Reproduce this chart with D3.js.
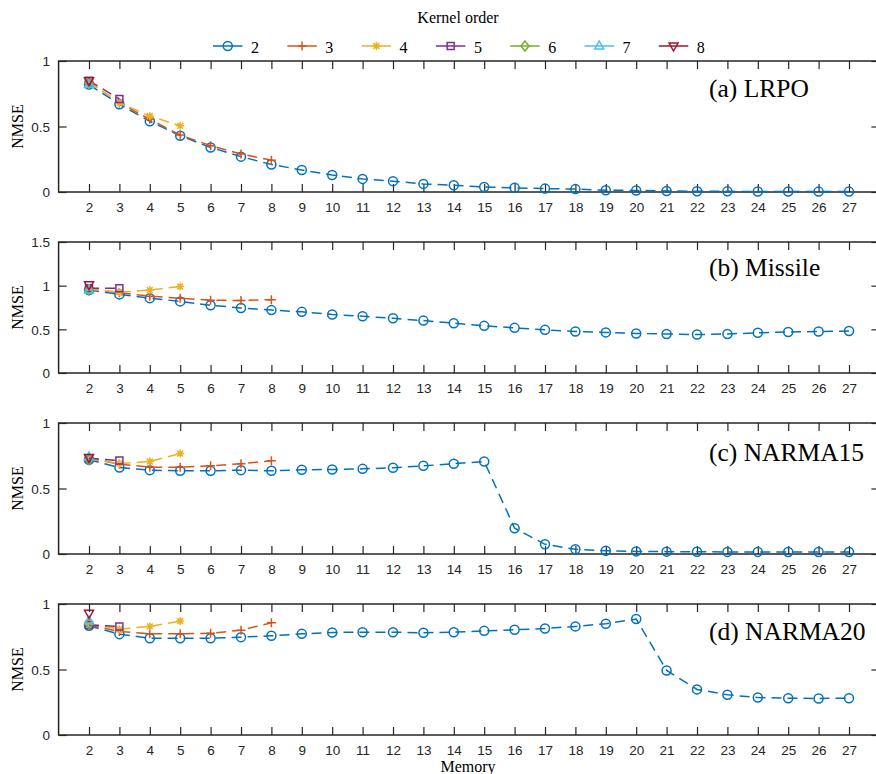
<!DOCTYPE html>
<html><head><meta charset="utf-8">
<script src="https://cdn.jsdelivr.net/npm/d3@7"></script>
<style>body{margin:0;background:#fff}svg{display:block}</style>
</head><body>
<script>
// ---- data ----
const memory = d3.range(2, 28);
const kernelOrders = ["2","3","4","5","6","7","8"];
const panelTitles = ["(a) LRPO", "(b) Missile", "(c) NARMA15", "(d) NARMA20"];
const yMaxes = [1, 1.5, 1, 1];
const yTicksA = [0, 0.5, 1];
const yTicksB = [0, 0.5, 1, 1.5];
const xTicks = d3.range(2, 28);

const lrpo = [
  [0.82,0.67,0.54,0.43,0.34,0.27,0.21,0.168,0.13,0.10,0.083,0.062,0.052,0.038,0.032,0.026,0.022,0.013,0.012,0.008,0.006,0.005,0.004,0.004,0.003,0.003],
  [0.84,0.68,0.555,0.435,0.354,0.29,0.242],
  [0.84,0.68,0.58,0.505],
  [0.85,0.71],
  [0.83],
  [0.82],
  [0.85]
];
const missile = [
  [0.95,0.90,0.857,0.82,0.776,0.745,0.72,0.70,0.67,0.65,0.626,0.60,0.57,0.54,0.517,0.494,0.476,0.465,0.453,0.447,0.44,0.447,0.46,0.47,0.476,0.48],
  [0.96,0.92,0.88,0.855,0.834,0.83,0.84],
  [0.96,0.925,0.95,0.99],
  [0.97,0.97],
  [0.95],
  [0.95],
  [1.01]
];
const narma15 = [
  [0.72,0.66,0.64,0.635,0.635,0.64,0.635,0.643,0.645,0.65,0.658,0.673,0.689,0.706,0.197,0.074,0.036,0.025,0.02,0.018,0.017,0.016,0.016,0.015,0.015,0.015],
  [0.73,0.686,0.663,0.663,0.673,0.689,0.711],
  [0.73,0.69,0.706,0.767],
  [0.73,0.714],
  [0.72],
  [0.74],
  [0.737]
];
const narma20 = [
  [0.834,0.77,0.739,0.739,0.739,0.747,0.757,0.772,0.783,0.785,0.785,0.78,0.785,0.795,0.803,0.813,0.829,0.849,0.885,0.493,0.348,0.307,0.286,0.281,0.279,0.281],
  [0.84,0.79,0.772,0.772,0.777,0.80,0.856],
  [0.85,0.808,0.829,0.87],
  [0.84,0.829],
  [0.85],
  [0.87],
  [0.929]
];
const panels = [lrpo, missile, narma15, narma20];

// ---- styles ----
const colors = ["#0072BD","#D95319","#EDB120","#7E2F8E","#77AC30","#4DBEEE","#A2142F"];
const W = 876, H = 774;
const axisColor = "#262626";
const serif = "'Liberation Serif','Times New Roman',serif";
const sans = "'Liberation Sans',Arial,sans-serif";
const markerPaths = [
  null,
  "M-4.5,0H4.5M0,-4.5V4.5",
  "M-4,0H4M0,-4V4M-2.9,-2.9L2.9,2.9M-2.9,2.9L2.9,-2.9",
  "M-3.5,-3.5H3.5V3.5H-3.5Z",
  "M0,-5L4,0L0,5L-4,0Z",
  "M0,-5L4.5,3L-4.5,3Z",
  "M0,5L4.5,-3L-4.5,-3Z"
];

const svg = d3.select("body").append("svg").attr("width", W).attr("height", H);
const x = d3.scaleLinear().domain([1, 28]).range([58.6, 879.4]);

function drawMarker(g, k, cx, cy, color) {
  if (k === 0) {
    g.append("circle").attr("cx", cx).attr("cy", cy).attr("r", 4.5)
      .attr("fill", "none").attr("stroke", color).attr("stroke-width", 1.5);
  } else {
    g.append("path").attr("d", markerPaths[k]).attr("transform", `translate(${cx},${cy})`)
      .attr("fill", "none").attr("stroke", color).attr("stroke-width", 1.5);
  }
}

const titleOffsets = [36, 34, 38, 36];

panels.forEach((series, p) => {
  const top = 61 + p * 181, bottom = top + 131;
  const y = d3.scaleLinear().domain([0, yMaxes[p]]).range([bottom, top]);
  const g = svg.append("g");
  const yt = p === 1 ? yTicksB : yTicksA;

  // box
  g.append("rect").attr("x", x(1)).attr("y", top).attr("width", x(28) - x(1)).attr("height", bottom - top)
    .attr("fill", "none").attr("stroke", axisColor).attr("stroke-width", 1.5);

  // x axes (bottom & top, inward ticks)
  const xb = g.append("g").attr("transform", `translate(0,${bottom})`)
    .call(d3.axisBottom(x).tickValues(xTicks).tickSizeInner(-8).tickSizeOuter(0).tickPadding(18).tickFormat(d3.format("d")));
  const xt = g.append("g").attr("transform", `translate(0,${top})`)
    .call(d3.axisTop(x).tickValues(xTicks).tickSizeInner(-8).tickSizeOuter(0).tickFormat(""));
  const yl = g.append("g").attr("transform", `translate(${x(1)},0)`)
    .call(d3.axisLeft(y).tickValues(yt).tickSizeInner(-8).tickSizeOuter(0).tickPadding(16).tickFormat(d => d3.format("")(d)));
  const yr = g.append("g").attr("transform", `translate(${x(28)},0)`)
    .call(d3.axisRight(y).tickValues(yt).tickSizeInner(-8).tickSizeOuter(0).tickFormat(""));
  [xb, xt, yl, yr].forEach(a => {
    a.select(".domain").remove();
    a.selectAll("line").attr("stroke", axisColor).attr("stroke-width", 1.2);
    a.selectAll("text").attr("fill", axisColor).style("font-family", sans).style("font-size", "13.5px");
  });
  xb.selectAll("text").attr("dy", null).attr("y", 20).attr("dominant-baseline", "auto");
  yl.selectAll("text").attr("x", -8.6).attr("dy", "0.35em");

  // NMSE label
  g.append("text").attr("transform", `translate(23,${(top + bottom) / 2}) rotate(-90)`)
    .attr("text-anchor", "middle").style("font-family", serif).style("font-size", "16px")
    .attr("fill", "#000").text("NMSE");

  // title
  g.append("text").attr("x", 709).attr("y", top + titleOffsets[p])
    .style("font-family", serif).style("font-size", "25.5px").attr("fill", "#000").text(panelTitles[p]);

  // series
  const line = d3.line().x((d, i) => x(memory[i])).y(d => y(d));
  series.forEach((vals, k) => {
    const sg = g.append("g");
    if (vals.length > 1) {
      sg.append("path").attr("d", line(vals)).attr("fill", "none").attr("stroke", colors[k])
        .attr("stroke-width", 1.5).attr("stroke-dasharray", "10,6");
    }
    vals.forEach((v, i) => drawMarker(sg, k, x(memory[i]), y(v), colors[k]));
  });
});

// Memory label
svg.append("text").attr("x", (x(1) + x(28)) / 2 - 1).attr("y", 772).attr("text-anchor", "middle")
  .style("font-family", serif).style("font-size", "16px").attr("fill", "#000").text("Memory");

// Legend
svg.append("text").attr("x", 458).attr("y", 23).attr("text-anchor", "middle")
  .style("font-family", serif).style("font-size", "16px").attr("fill", "#000").text("Kernel order");
kernelOrders.forEach((lab, k) => {
  const x0 = 213 + k * 74.3;
  const lg = svg.append("g");
  lg.append("line").attr("x1", x0).attr("x2", x0 + 29.5).attr("y1", 46).attr("y2", 46)
    .attr("stroke", colors[k]).attr("stroke-width", 1.5);
  drawMarker(lg, k, x0 + 14.75, 46, colors[k]);
  lg.append("text").attr("x", x0 + 38).attr("y", 52.5).style("font-family", serif)
    .style("font-size", "16px").attr("fill", "#000").text(lab);
});
</script>
</body></html>
